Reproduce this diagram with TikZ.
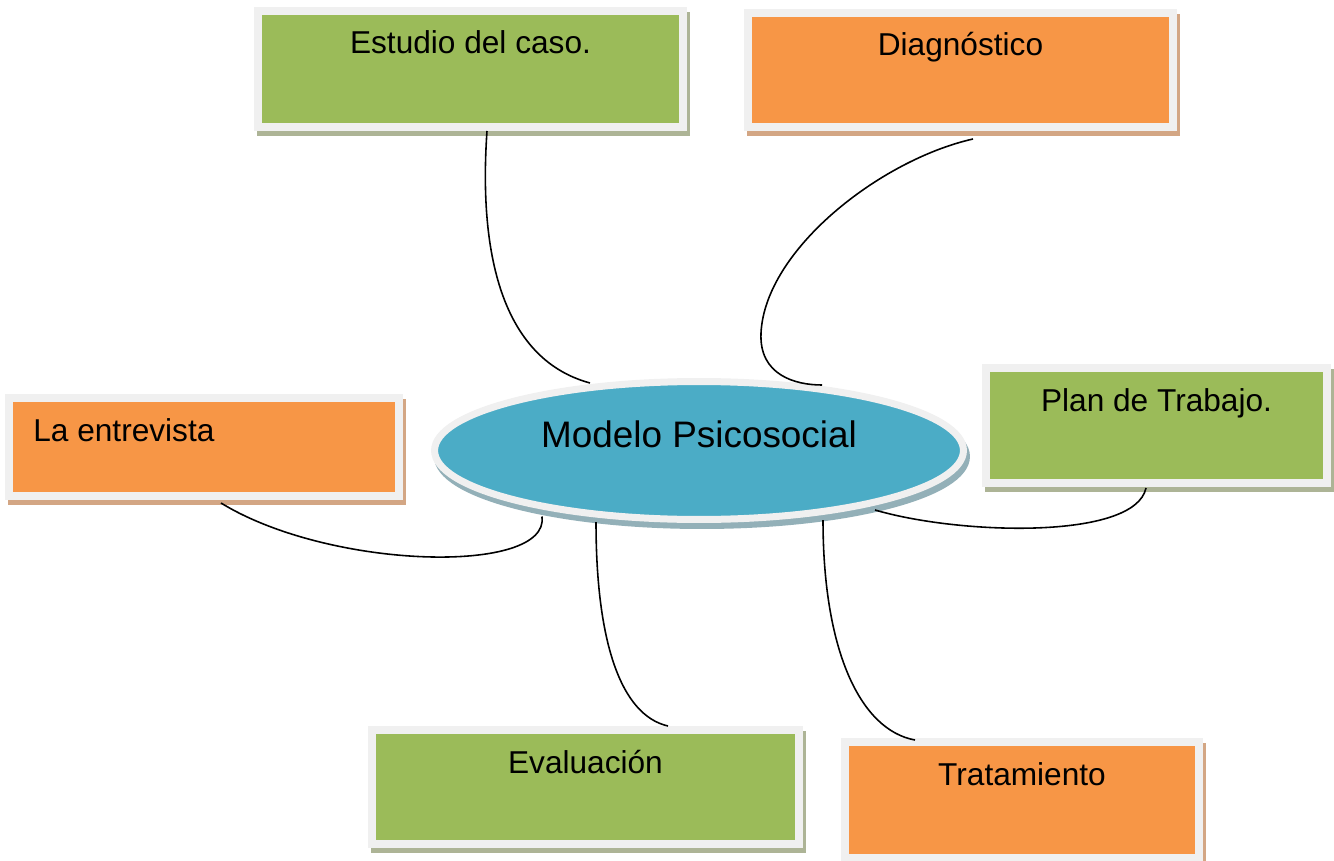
\documentclass[tikz,border=0pt]{standalone}
\usepackage{fontspec}
\setmainfont{Liberation Sans}
\usetikzlibrary{calc, shapes.geometric}

\definecolor{framegray}{HTML}{F0F0F0}
\definecolor{fillgreen}{HTML}{9BBB59}
\definecolor{fillorange}{HTML}{F79646}
\definecolor{fillblue}{HTML}{4BACC6}
\definecolor{shadowgreen}{HTML}{ADB496}
\definecolor{shadoworange}{HTML}{D3A684}
\definecolor{shadowblue}{HTML}{93B0B8}

\begin{document}
\begin{tikzpicture}[x=0.02cm, y=-0.02cm,
  box/.style={rectangle, draw=framegray, line width=0.16cm, inner sep=0pt,
    preaction={draw=#1, fill=#1, transform canvas={xshift=0.06cm, yshift=-0.1cm}}},
  greenbox/.style={box=shadowgreen, fill=fillgreen},
  orangebox/.style={box=shadoworange, fill=fillorange},
  boxtext/.style={font=\fontsize{18}{21}\selectfont, inner sep=0pt, anchor=base, yshift=-0.94cm},
  hub/.style={ellipse, draw=framegray, line width=0.14cm, fill=fillblue, inner sep=0pt,
    minimum width=10.58cm, minimum height=2.76cm,
    preaction={draw=shadowblue, fill=shadowblue, transform canvas={xshift=0.06cm, yshift=-0.12cm}}},
  link/.style={line width=0.9pt}]
\useasboundingbox (0,0) rectangle (1334,861);
% Draw central ellipse
\node[hub, label={[font=\fontsize{21}{25}\selectfont, inner sep=0pt, anchor=base, yshift=0.33cm]center:Modelo Psicosocial}] (modelo) at (699,450.5) {};
% Draw boxes
\node[greenbox, minimum width=8.5cm, minimum height=2.32cm, label={[boxtext]north:Estudio del caso.}] (caso) at (470.5,69) {};
\node[orangebox, minimum width=8.5cm, minimum height=2.28cm, label={[boxtext]north:Diagnóstico}] (diagnostico) at (960.5,70) {};
\node[orangebox, minimum width=7.8cm, minimum height=1.96cm, label={[boxtext, anchor=base west, xshift=0.56cm]north west:La entrevista}] (entrevista) at (204,447) {};
\node[greenbox, minimum width=6.82cm, minimum height=2.3cm, label={[boxtext]north:Plan de Trabajo.}] (plan) at (1156.5,425.5) {};
\node[greenbox, minimum width=8.54cm, minimum height=2.28cm, label={[boxtext]north:Evaluación}] (evaluacion) at (585.5,787) {};
\node[orangebox, minimum width=7.08cm, minimum height=2.32cm, label={[boxtext]north:Tratamiento}] (tratamiento) at (1022,800) {};
% Draw connectors
\draw[link] ($(caso.south)+(16.5,0)$) .. controls (478,260) and (505,360) .. ($(modelo.center)+(-109,-67.5)$);
\draw[link] ($(diagnostico.south)+(12.5,8)$) .. controls (880,160) and (765,250) .. (761,333)
  .. controls (759,375) and (795,385) .. ($(modelo.center)+(123,-65.5)$);
\draw[link] ($(entrevista.south)+(17,3)$) .. controls (330,570) and (550,575) .. ($(modelo.center)+(-157,66)$);
\draw[link] ($(plan.south)+(-10.5,1)$) .. controls (1135,540) and (960,535) .. ($(modelo.center)+(176,59.5)$);
\draw[link] ($(modelo.center)+(-103,71.5)$) .. controls (596,640) and (620,715) .. ($(evaluacion.north)+(82.5,0)$);
\draw[link] ($(modelo.center)+(124,69.5)$) .. controls (823,650) and (860,730) .. ($(tratamiento.north)+(-107,2)$);
\end{tikzpicture}
\end{document}
